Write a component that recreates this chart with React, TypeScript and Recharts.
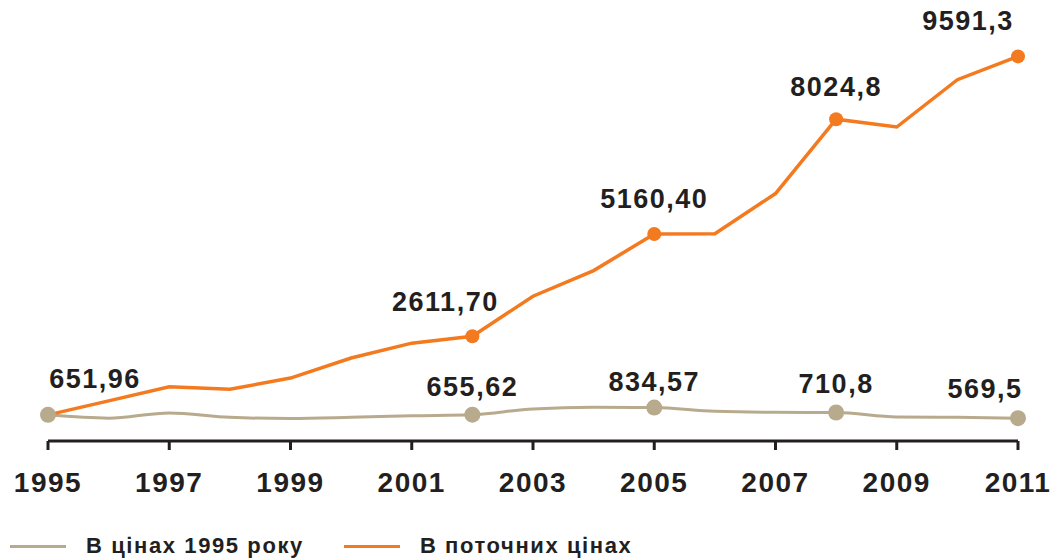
import {
  LineChart,
  Line,
  XAxis,
  YAxis,
  Legend,
  LabelList,
} from "recharts"

const years = [1995, 1996, 1997, 1998, 1999, 2000, 2001, 2002, 2003, 2004, 2005, 2006, 2007, 2008, 2009, 2010, 2011]
const currentPrices = [651.96, 1000, 1350, 1290, 1570, 2070, 2440, 2611.7, 3610, 4250, 5160.4, 5170, 6170, 8024.8, 7830, 9010, 9591.3]
const prices1995 = [651.96, 570, 700, 590, 560, 590, 630, 655.62, 800, 840, 834.57, 740, 715, 710.8, 600, 590, 569.5]
const currentLabels = ["", "", "", "", "", "", "", "2611,70", "", "", "5160,40", "", "", "8024,8", "", "", "9591,3"]
const labels1995 = ["651,96", "", "", "", "", "", "", "655,62", "", "", "834,57", "", "", "710,8", "", "", "569,5"]
const xTicks = [1995, 1997, 1999, 2001, 2003, 2005, 2007, 2009, 2011]

const ORANGE = "#f47a20"
const TAN = "#b8aa8c"
const INK = "#231f20"
const FONT = "'Liberation Sans', Arial, sans-serif"

const data = years.map((year, i) => ({
  year,
  current: currentPrices[i],
  base: prices1995[i],
}))

// where each value label sits relative to its point
const labelShift: Record<string, [number, number]> = {
  "651,96": [47, -36],
  "655,62": [0, -28],
  "834,57": [0, -26],
  "710,8": [0, -28],
  "569,5": [-33, -29],
  "2611,70": [-27, -34],
  "5160,40": [0, -35],
  "8024,8": [0, -32],
  "9591,3": [-50, -35],
}

const makeLabel = (texts: string[]) => (props: any) => {
  const { x, y, index } = props
  const text = texts[index]
  if (!text) return null
  const [dx, dy] = labelShift[text] || [0, -30]
  return (
    <text
      x={x + dx}
      y={y + dy}
      textAnchor="middle"
      dominantBaseline="central"
      fill={INK}
      fontSize={27}
      fontWeight={700}
      letterSpacing={1.5}
      fontFamily={FONT}
    >
      {text}
    </text>
  )
}

const makeDot = (texts: string[], color: string, r: number) => (props: any) => {
  const { cx, cy, index } = props
  if (!texts[index]) return <g key={index} />
  return <circle key={index} cx={cx} cy={cy} r={r} fill={color} />
}

const LegendBox = () => (
  <div
    style={{
      display: "flex",
      alignItems: "center",
      fontFamily: FONT,
      fontWeight: 700,
      fontSize: 22,
      letterSpacing: 1.6,
      color: INK,
    }}
  >
    <span style={{ display: "inline-block", width: 56, height: 3, background: TAN, marginLeft: 10, marginRight: 20 }} />
    <span>В цінах 1995 року</span>
    <span style={{ display: "inline-block", width: 56, height: 3, background: ORANGE, marginLeft: 40, marginRight: 20 }} />
    <span>В поточних цінах</span>
  </div>
)

const App = () => {
  return (
    <div style={{ position: "absolute", left: 0, top: 0, background: "#fff" }}>
      <LineChart
        width={1058}
        height={559}
        data={data}
        margin={{ top: 40, right: 40, bottom: 32, left: 48 }}
      >
        <XAxis
          dataKey="year"
          type="number"
          domain={[1995, 2011]}
          ticks={xTicks}
          interval={0}
          axisLine={{ stroke: INK, strokeWidth: 3 }}
          tickLine={{ stroke: INK, strokeWidth: 3 }}
          tickSize={9}
          tickMargin={22}
          height={60}
          tick={{ fill: INK, fontSize: 28, fontWeight: 700, fontFamily: FONT, letterSpacing: 1.5 }}
        />
        <YAxis hide domain={[0, 10000]} />
        <Legend
          verticalAlign="bottom"
          align="left"
          content={<LegendBox />}
          wrapperStyle={{ left: 0, bottom: 0 }}
        />
        <Line
          type="monotone"
          dataKey="base"
          stroke={TAN}
          strokeWidth={3}
          dot={makeDot(labels1995, TAN, 8)}
          activeDot={false}
          isAnimationActive={false}
        >
          <LabelList dataKey="base" content={makeLabel(labels1995)} />
        </Line>
        <Line
          type="linear"
          dataKey="current"
          stroke={ORANGE}
          strokeWidth={3.5}
          dot={makeDot(currentLabels.map((t, i) => (i === 0 ? "" : t)), ORANGE, 7)}
          activeDot={false}
          isAnimationActive={false}
        >
          <LabelList dataKey="current" content={makeLabel(currentLabels)} />
        </Line>
      </LineChart>
    </div>
  )
}

export default App
